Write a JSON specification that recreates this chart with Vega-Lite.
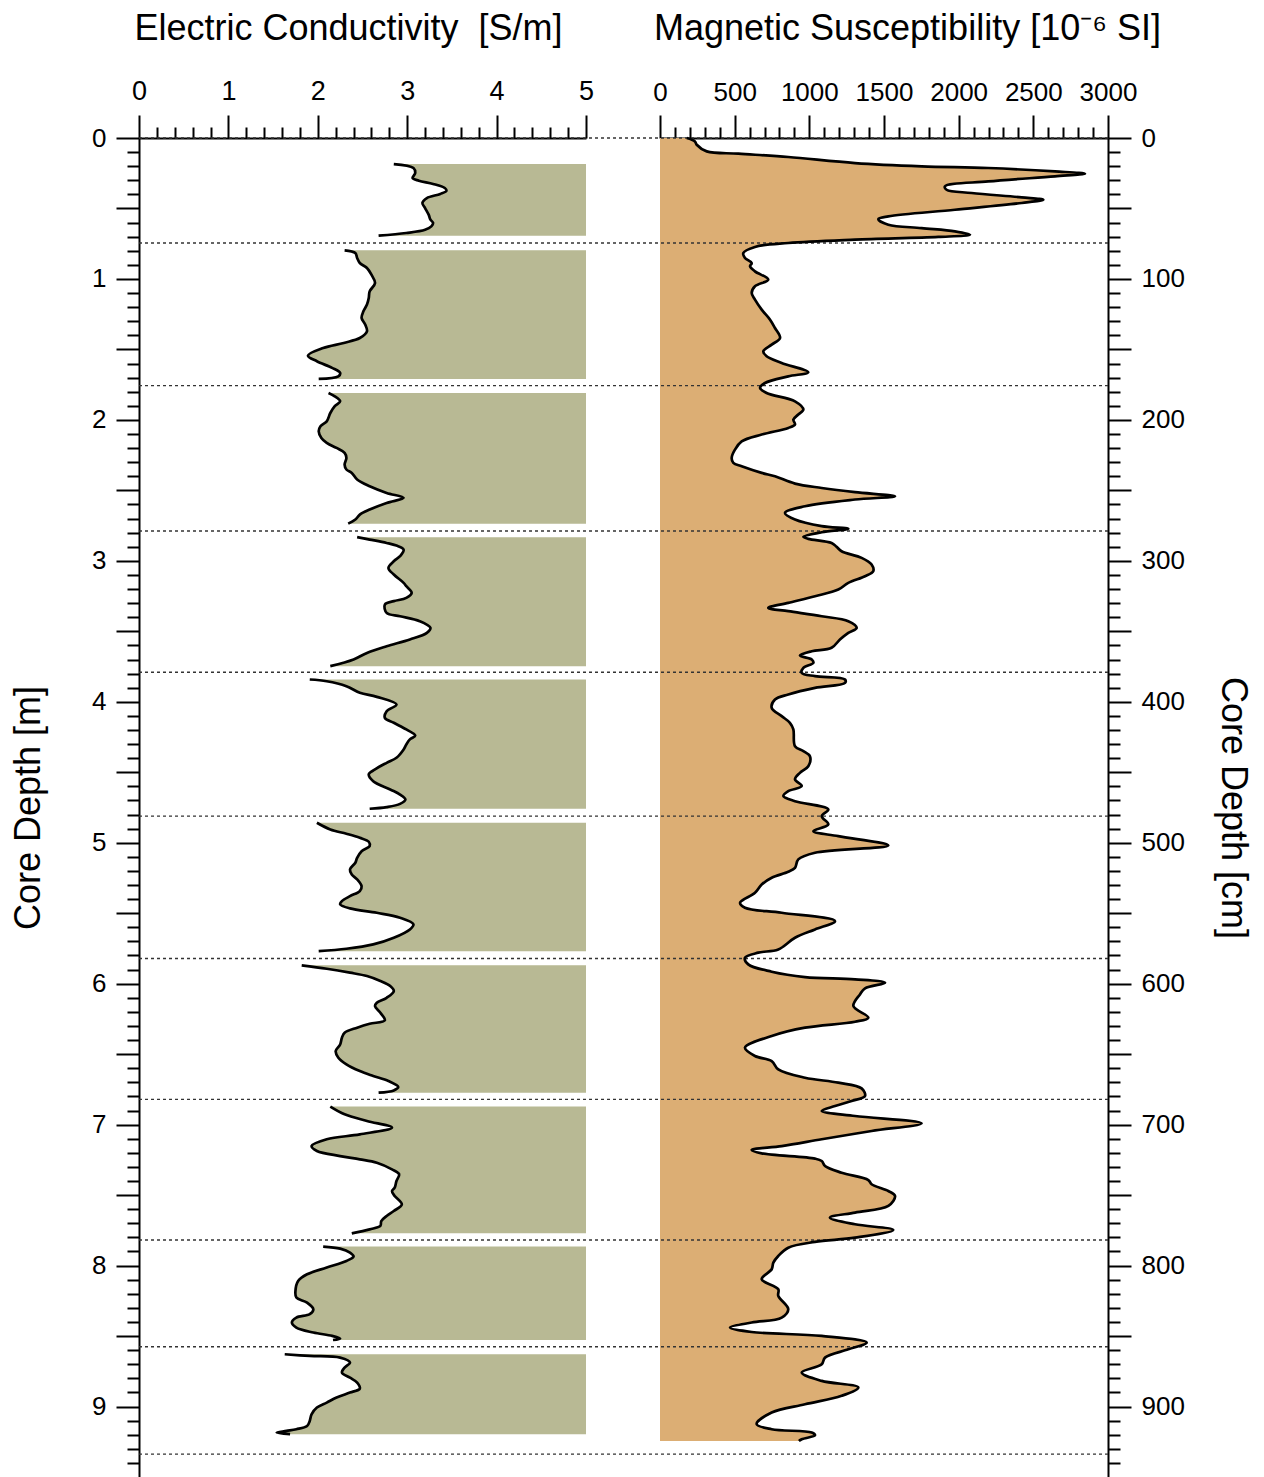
{
  "$schema": "https://vega.github.io/schema/vega-lite/v6.json",
  "width": 969,
  "height": 1339,
  "autosize": {"type": "none"},
  "padding": {"left": 139, "top": 138, "right": 156, "bottom": 0},
  "background": "white",
  "config": {
    "font": "Liberation Sans",
    "view": {"stroke": null},
    "axis": {
      "domainColor": "#000", "domainWidth": 2, "tickColor": "#000", "tickWidth": 2,
      "labelColor": "#000", "titleColor": "#000", "grid": false,
      "labelFont": "Liberation Sans", "titleFont": "Liberation Sans", "titleFontWeight": "normal",
      "labelOverlap": false, "labelBound": false, "labelFlush": false, "zindex": 1
    }
  },
  "datasets": {
    "ec": [
      {"section": 1, "depth": 0.185, "ec": 2.85}, {"section": 1, "depth": 0.213, "ec": 3.07}, {"section": 1, "depth": 0.248, "ec": 3.09}, {"section": 1, "depth": 0.284, "ec": 3.06}, {"section": 1, "depth": 0.303, "ec": 3.13}, {"section": 1, "depth": 0.326, "ec": 3.29}, {"section": 1, "depth": 0.355, "ec": 3.42}, {"section": 1, "depth": 0.374, "ec": 3.44}, {"section": 1, "depth": 0.397, "ec": 3.37}, {"section": 1, "depth": 0.426, "ec": 3.22}, {"section": 1, "depth": 0.461, "ec": 3.17}, {"section": 1, "depth": 0.497, "ec": 3.2}, {"section": 1, "depth": 0.544, "ec": 3.24}, {"section": 1, "depth": 0.579, "ec": 3.26}, {"section": 1, "depth": 0.603, "ec": 3.29}, {"section": 1, "depth": 0.627, "ec": 3.27}, {"section": 1, "depth": 0.651, "ec": 3.2}, {"section": 1, "depth": 0.674, "ec": 2.99}, {"section": 1, "depth": 0.693, "ec": 2.68},
      {"section": 2, "depth": 0.797, "ec": 2.3}, {"section": 2, "depth": 0.816, "ec": 2.42}, {"section": 2, "depth": 0.851, "ec": 2.44}, {"section": 2, "depth": 0.887, "ec": 2.47}, {"section": 2, "depth": 0.922, "ec": 2.55}, {"section": 2, "depth": 0.97, "ec": 2.6}, {"section": 2, "depth": 1.029, "ec": 2.64}, {"section": 2, "depth": 1.088, "ec": 2.58}, {"section": 2, "depth": 1.135, "ec": 2.57}, {"section": 2, "depth": 1.182, "ec": 2.55}, {"section": 2, "depth": 1.23, "ec": 2.51}, {"section": 2, "depth": 1.277, "ec": 2.49}, {"section": 2, "depth": 1.324, "ec": 2.53}, {"section": 2, "depth": 1.372, "ec": 2.55}, {"section": 2, "depth": 1.419, "ec": 2.47}, {"section": 2, "depth": 1.454, "ec": 2.29}, {"section": 2, "depth": 1.49, "ec": 2.06}, {"section": 2, "depth": 1.544, "ec": 1.89}, {"section": 2, "depth": 1.584, "ec": 1.99}, {"section": 2, "depth": 1.631, "ec": 2.16}, {"section": 2, "depth": 1.667, "ec": 2.25}, {"section": 2, "depth": 1.691, "ec": 2.23}, {"section": 2, "depth": 1.709, "ec": 2.01},
      {"section": 3, "depth": 1.809, "ec": 2.12}, {"section": 3, "depth": 1.833, "ec": 2.19}, {"section": 3, "depth": 1.868, "ec": 2.25}, {"section": 3, "depth": 1.903, "ec": 2.19}, {"section": 3, "depth": 1.951, "ec": 2.14}, {"section": 3, "depth": 2.01, "ec": 2.1}, {"section": 3, "depth": 2.045, "ec": 2.03}, {"section": 3, "depth": 2.081, "ec": 2.01}, {"section": 3, "depth": 2.128, "ec": 2.04}, {"section": 3, "depth": 2.163, "ec": 2.1}, {"section": 3, "depth": 2.199, "ec": 2.21}, {"section": 3, "depth": 2.234, "ec": 2.3}, {"section": 3, "depth": 2.27, "ec": 2.32}, {"section": 3, "depth": 2.317, "ec": 2.3}, {"section": 3, "depth": 2.352, "ec": 2.32}, {"section": 3, "depth": 2.376, "ec": 2.38}, {"section": 3, "depth": 2.423, "ec": 2.44}, {"section": 3, "depth": 2.471, "ec": 2.58}, {"section": 3, "depth": 2.518, "ec": 2.77}, {"section": 3, "depth": 2.553, "ec": 2.96}, {"section": 3, "depth": 2.589, "ec": 2.77}, {"section": 3, "depth": 2.636, "ec": 2.58}, {"section": 3, "depth": 2.672, "ec": 2.47}, {"section": 3, "depth": 2.707, "ec": 2.42}, {"section": 3, "depth": 2.736, "ec": 2.34},
      {"section": 4, "depth": 2.832, "ec": 2.44}, {"section": 4, "depth": 2.849, "ec": 2.58}, {"section": 4, "depth": 2.873, "ec": 2.77}, {"section": 4, "depth": 2.892, "ec": 2.88}, {"section": 4, "depth": 2.92, "ec": 2.96}, {"section": 4, "depth": 2.967, "ec": 2.92}, {"section": 4, "depth": 3.003, "ec": 2.85}, {"section": 4, "depth": 3.05, "ec": 2.79}, {"section": 4, "depth": 3.097, "ec": 2.85}, {"section": 4, "depth": 3.156, "ec": 2.96}, {"section": 4, "depth": 3.18, "ec": 2.99}, {"section": 4, "depth": 3.227, "ec": 3.05}, {"section": 4, "depth": 3.263, "ec": 2.99}, {"section": 4, "depth": 3.286, "ec": 2.85}, {"section": 4, "depth": 3.31, "ec": 2.75}, {"section": 4, "depth": 3.369, "ec": 2.77}, {"section": 4, "depth": 3.393, "ec": 2.92}, {"section": 4, "depth": 3.428, "ec": 3.14}, {"section": 4, "depth": 3.475, "ec": 3.26}, {"section": 4, "depth": 3.511, "ec": 3.22}, {"section": 4, "depth": 3.558, "ec": 3.03}, {"section": 4, "depth": 3.606, "ec": 2.77}, {"section": 4, "depth": 3.653, "ec": 2.55}, {"section": 4, "depth": 3.7, "ec": 2.4}, {"section": 4, "depth": 3.747, "ec": 2.14},
      {"section": 5, "depth": 3.842, "ec": 1.91}, {"section": 5, "depth": 3.854, "ec": 2.1}, {"section": 5, "depth": 3.889, "ec": 2.32}, {"section": 5, "depth": 3.936, "ec": 2.47}, {"section": 5, "depth": 3.965, "ec": 2.66}, {"section": 5, "depth": 4.019, "ec": 2.88}, {"section": 5, "depth": 4.067, "ec": 2.77}, {"section": 5, "depth": 4.114, "ec": 2.75}, {"section": 5, "depth": 4.149, "ec": 2.85}, {"section": 5, "depth": 4.196, "ec": 2.99}, {"section": 5, "depth": 4.239, "ec": 3.09}, {"section": 5, "depth": 4.267, "ec": 3.03}, {"section": 5, "depth": 4.303, "ec": 2.99}, {"section": 5, "depth": 4.338, "ec": 2.96}, {"section": 5, "depth": 4.397, "ec": 2.88}, {"section": 5, "depth": 4.433, "ec": 2.77}, {"section": 5, "depth": 4.48, "ec": 2.64}, {"section": 5, "depth": 4.515, "ec": 2.57}, {"section": 5, "depth": 4.563, "ec": 2.62}, {"section": 5, "depth": 4.622, "ec": 2.81}, {"section": 5, "depth": 4.658, "ec": 2.92}, {"section": 5, "depth": 4.693, "ec": 2.98}, {"section": 5, "depth": 4.724, "ec": 2.92}, {"section": 5, "depth": 4.747, "ec": 2.77}, {"section": 5, "depth": 4.759, "ec": 2.58},
      {"section": 6, "depth": 4.858, "ec": 1.99}, {"section": 6, "depth": 4.906, "ec": 2.14}, {"section": 6, "depth": 4.936, "ec": 2.32}, {"section": 6, "depth": 4.965, "ec": 2.47}, {"section": 6, "depth": 4.993, "ec": 2.57}, {"section": 6, "depth": 5.024, "ec": 2.58}, {"section": 6, "depth": 5.06, "ec": 2.49}, {"section": 6, "depth": 5.107, "ec": 2.44}, {"section": 6, "depth": 5.142, "ec": 2.42}, {"section": 6, "depth": 5.189, "ec": 2.36}, {"section": 6, "depth": 5.225, "ec": 2.38}, {"section": 6, "depth": 5.26, "ec": 2.44}, {"section": 6, "depth": 5.308, "ec": 2.49}, {"section": 6, "depth": 5.343, "ec": 2.47}, {"section": 6, "depth": 5.379, "ec": 2.36}, {"section": 6, "depth": 5.414, "ec": 2.27}, {"section": 6, "depth": 5.437, "ec": 2.25}, {"section": 6, "depth": 5.466, "ec": 2.36}, {"section": 6, "depth": 5.497, "ec": 2.66}, {"section": 6, "depth": 5.532, "ec": 2.92}, {"section": 6, "depth": 5.579, "ec": 3.07}, {"section": 6, "depth": 5.615, "ec": 3.03}, {"section": 6, "depth": 5.674, "ec": 2.85}, {"section": 6, "depth": 5.721, "ec": 2.62}, {"section": 6, "depth": 5.752, "ec": 2.32}, {"section": 6, "depth": 5.769, "ec": 2.01},
      {"section": 7, "depth": 5.87, "ec": 1.82}, {"section": 7, "depth": 5.894, "ec": 2.1}, {"section": 7, "depth": 5.922, "ec": 2.36}, {"section": 7, "depth": 5.946, "ec": 2.55}, {"section": 7, "depth": 5.981, "ec": 2.7}, {"section": 7, "depth": 6.017, "ec": 2.81}, {"section": 7, "depth": 6.052, "ec": 2.85}, {"section": 7, "depth": 6.1, "ec": 2.77}, {"section": 7, "depth": 6.135, "ec": 2.66}, {"section": 7, "depth": 6.159, "ec": 2.64}, {"section": 7, "depth": 6.206, "ec": 2.7}, {"section": 7, "depth": 6.26, "ec": 2.75}, {"section": 7, "depth": 6.284, "ec": 2.58}, {"section": 7, "depth": 6.312, "ec": 2.44}, {"section": 7, "depth": 6.348, "ec": 2.3}, {"section": 7, "depth": 6.383, "ec": 2.27}, {"section": 7, "depth": 6.431, "ec": 2.25}, {"section": 7, "depth": 6.478, "ec": 2.2}, {"section": 7, "depth": 6.525, "ec": 2.23}, {"section": 7, "depth": 6.572, "ec": 2.32}, {"section": 7, "depth": 6.62, "ec": 2.47}, {"section": 7, "depth": 6.655, "ec": 2.62}, {"section": 7, "depth": 6.691, "ec": 2.79}, {"section": 7, "depth": 6.733, "ec": 2.9}, {"section": 7, "depth": 6.757, "ec": 2.85}, {"section": 7, "depth": 6.773, "ec": 2.68},
      {"section": 8, "depth": 6.872, "ec": 2.14}, {"section": 8, "depth": 6.927, "ec": 2.3}, {"section": 8, "depth": 6.974, "ec": 2.55}, {"section": 8, "depth": 7.021, "ec": 2.83}, {"section": 8, "depth": 7.069, "ec": 2.47}, {"section": 8, "depth": 7.104, "ec": 2.1}, {"section": 8, "depth": 7.152, "ec": 1.93}, {"section": 8, "depth": 7.187, "ec": 1.99}, {"section": 8, "depth": 7.223, "ec": 2.25}, {"section": 8, "depth": 7.246, "ec": 2.47}, {"section": 8, "depth": 7.27, "ec": 2.66}, {"section": 8, "depth": 7.317, "ec": 2.83}, {"section": 8, "depth": 7.352, "ec": 2.91}, {"section": 8, "depth": 7.4, "ec": 2.88}, {"section": 8, "depth": 7.447, "ec": 2.86}, {"section": 8, "depth": 7.471, "ec": 2.83}, {"section": 8, "depth": 7.506, "ec": 2.86}, {"section": 8, "depth": 7.565, "ec": 2.94}, {"section": 8, "depth": 7.613, "ec": 2.85}, {"section": 8, "depth": 7.648, "ec": 2.77}, {"section": 8, "depth": 7.684, "ec": 2.71}, {"section": 8, "depth": 7.719, "ec": 2.7}, {"section": 8, "depth": 7.743, "ec": 2.58}, {"section": 8, "depth": 7.771, "ec": 2.38},
      {"section": 9, "depth": 7.865, "ec": 2.06}, {"section": 9, "depth": 7.88, "ec": 2.25}, {"section": 9, "depth": 7.908, "ec": 2.36}, {"section": 9, "depth": 7.936, "ec": 2.4}, {"section": 9, "depth": 7.967, "ec": 2.32}, {"section": 9, "depth": 8.014, "ec": 2.1}, {"section": 9, "depth": 8.062, "ec": 1.88}, {"section": 9, "depth": 8.109, "ec": 1.78}, {"section": 9, "depth": 8.18, "ec": 1.75}, {"section": 9, "depth": 8.227, "ec": 1.76}, {"section": 9, "depth": 8.263, "ec": 1.88}, {"section": 9, "depth": 8.31, "ec": 1.95}, {"section": 9, "depth": 8.345, "ec": 1.91}, {"section": 9, "depth": 8.369, "ec": 1.76}, {"section": 9, "depth": 8.404, "ec": 1.71}, {"section": 9, "depth": 8.44, "ec": 1.76}, {"section": 9, "depth": 8.475, "ec": 1.95}, {"section": 9, "depth": 8.499, "ec": 2.16}, {"section": 9, "depth": 8.518, "ec": 2.25}, {"section": 9, "depth": 8.528, "ec": 2.17},
      {"section": 10, "depth": 8.629, "ec": 1.63}, {"section": 10, "depth": 8.641, "ec": 1.91}, {"section": 10, "depth": 8.653, "ec": 2.25}, {"section": 10, "depth": 8.688, "ec": 2.36}, {"section": 10, "depth": 8.724, "ec": 2.3}, {"section": 10, "depth": 8.759, "ec": 2.27}, {"section": 10, "depth": 8.795, "ec": 2.36}, {"section": 10, "depth": 8.83, "ec": 2.44}, {"section": 10, "depth": 8.873, "ec": 2.47}, {"section": 10, "depth": 8.901, "ec": 2.36}, {"section": 10, "depth": 8.936, "ec": 2.21}, {"section": 10, "depth": 8.972, "ec": 2.1}, {"section": 10, "depth": 9.007, "ec": 1.99}, {"section": 10, "depth": 9.055, "ec": 1.93}, {"section": 10, "depth": 9.102, "ec": 1.91}, {"section": 10, "depth": 9.138, "ec": 1.88}, {"section": 10, "depth": 9.161, "ec": 1.76}, {"section": 10, "depth": 9.173, "ec": 1.65}, {"section": 10, "depth": 9.185, "ec": 1.54}, {"section": 10, "depth": 9.196, "ec": 1.69}
    ],
    "ms": [
      {"depth": 0, "ms": 179}, {"depth": 0.024, "ms": 234}, {"depth": 0.048, "ms": 246}, {"depth": 0.095, "ms": 313}, {"depth": 0.111, "ms": 525}, {"depth": 0.135, "ms": 859}, {"depth": 0.178, "ms": 1306}, {"depth": 0.201, "ms": 1752}, {"depth": 0.213, "ms": 2198}, {"depth": 0.237, "ms": 2645}, {"depth": 0.253, "ms": 2846}, {"depth": 0.272, "ms": 2645}, {"depth": 0.308, "ms": 2198}, {"depth": 0.343, "ms": 1908}, {"depth": 0.367, "ms": 1919}, {"depth": 0.39, "ms": 2087}, {"depth": 0.421, "ms": 2422}, {"depth": 0.438, "ms": 2567}, {"depth": 0.461, "ms": 2422}, {"depth": 0.509, "ms": 1975}, {"depth": 0.556, "ms": 1529}, {"depth": 0.575, "ms": 1462}, {"depth": 0.615, "ms": 1529}, {"depth": 0.639, "ms": 1752}, {"depth": 0.662, "ms": 1975}, {"depth": 0.686, "ms": 2076}, {"depth": 0.702, "ms": 1864}, {"depth": 0.721, "ms": 1306}, {"depth": 0.745, "ms": 859}, {"depth": 0.773, "ms": 636}, {"depth": 0.816, "ms": 558}, {"depth": 0.851, "ms": 569}, {"depth": 0.887, "ms": 614}, {"depth": 0.91, "ms": 603}, {"depth": 0.946, "ms": 636}, {"depth": 1.005, "ms": 725}, {"depth": 1.052, "ms": 636}, {"depth": 1.1, "ms": 614}, {"depth": 1.147, "ms": 636}, {"depth": 1.218, "ms": 681}, {"depth": 1.289, "ms": 737}, {"depth": 1.348, "ms": 770}, {"depth": 1.419, "ms": 804}, {"depth": 1.466, "ms": 748}, {"depth": 1.513, "ms": 692}, {"depth": 1.549, "ms": 714}, {"depth": 1.596, "ms": 815}, {"depth": 1.662, "ms": 993}, {"depth": 1.691, "ms": 859}, {"depth": 1.738, "ms": 703}, {"depth": 1.773, "ms": 670}, {"depth": 1.809, "ms": 714}, {"depth": 1.868, "ms": 904}, {"depth": 1.927, "ms": 960}, {"depth": 1.962, "ms": 926}, {"depth": 1.998, "ms": 893}, {"depth": 2.033, "ms": 904}, {"depth": 2.057, "ms": 859}, {"depth": 2.104, "ms": 681}, {"depth": 2.152, "ms": 547}, {"depth": 2.211, "ms": 502}, {"depth": 2.27, "ms": 480}, {"depth": 2.305, "ms": 491},
      {"depth": 2.329, "ms": 547}, {"depth": 2.376, "ms": 681}, {"depth": 2.4, "ms": 770}, {"depth": 2.452, "ms": 904}, {"depth": 2.483, "ms": 1083}, {"depth": 2.513, "ms": 1306}, {"depth": 2.542, "ms": 1574}, {"depth": 2.565, "ms": 1306}, {"depth": 2.613, "ms": 971}, {"depth": 2.66, "ms": 837}, {"depth": 2.707, "ms": 904}, {"depth": 2.754, "ms": 1083}, {"depth": 2.773, "ms": 1261}, {"depth": 2.797, "ms": 1083}, {"depth": 2.83, "ms": 960}, {"depth": 2.844, "ms": 993}, {"depth": 2.873, "ms": 1149}, {"depth": 2.901, "ms": 1183}, {"depth": 2.932, "ms": 1216}, {"depth": 2.979, "ms": 1350}, {"depth": 3.026, "ms": 1417}, {"depth": 3.074, "ms": 1428}, {"depth": 3.109, "ms": 1373}, {"depth": 3.156, "ms": 1261}, {"depth": 3.204, "ms": 1194}, {"depth": 3.251, "ms": 1038}, {"depth": 3.298, "ms": 859}, {"depth": 3.334, "ms": 725}, {"depth": 3.357, "ms": 859}, {"depth": 3.393, "ms": 1083}, {"depth": 3.428, "ms": 1261}, {"depth": 3.475, "ms": 1317}, {"depth": 3.511, "ms": 1261}, {"depth": 3.558, "ms": 1205}, {"depth": 3.617, "ms": 1149}, {"depth": 3.641, "ms": 1016}, {"depth": 3.672, "ms": 937}, {"depth": 3.7, "ms": 1016}, {"depth": 3.724, "ms": 1027}, {"depth": 3.759, "ms": 960}, {"depth": 3.795, "ms": 949}, {"depth": 3.818, "ms": 1038}, {"depth": 3.842, "ms": 1239}, {"depth": 3.866, "ms": 1239}, {"depth": 3.901, "ms": 1038}, {"depth": 3.948, "ms": 859}, {"depth": 3.984, "ms": 770}, {"depth": 4.043, "ms": 748}, {"depth": 4.102, "ms": 815}, {"depth": 4.149, "ms": 870}, {"depth": 4.196, "ms": 893}, {"depth": 4.315, "ms": 904}, {"depth": 4.35, "ms": 960}, {"depth": 4.386, "ms": 1004}, {"depth": 4.457, "ms": 993}, {"depth": 4.504, "ms": 937}, {"depth": 4.551, "ms": 904}, {"depth": 4.598, "ms": 949},
      {"depth": 4.634, "ms": 859}, {"depth": 4.669, "ms": 826}, {"depth": 4.705, "ms": 904}, {"depth": 4.764, "ms": 1127}, {"depth": 4.811, "ms": 1083}, {"depth": 4.87, "ms": 1127}, {"depth": 4.918, "ms": 1027}, {"depth": 4.953, "ms": 1194}, {"depth": 5.019, "ms": 1529}, {"depth": 5.071, "ms": 1038}, {"depth": 5.118, "ms": 926}, {"depth": 5.178, "ms": 904}, {"depth": 5.206, "ms": 859}, {"depth": 5.248, "ms": 748}, {"depth": 5.296, "ms": 681}, {"depth": 5.355, "ms": 636}, {"depth": 5.426, "ms": 536}, {"depth": 5.461, "ms": 569}, {"depth": 5.497, "ms": 815}, {"depth": 5.556, "ms": 1172}, {"depth": 5.615, "ms": 1038}, {"depth": 5.674, "ms": 904}, {"depth": 5.757, "ms": 792}, {"depth": 5.78, "ms": 658}, {"depth": 5.816, "ms": 569}, {"depth": 5.863, "ms": 591}, {"depth": 5.915, "ms": 748}, {"depth": 5.953, "ms": 971}, {"depth": 5.969, "ms": 1306}, {"depth": 5.993, "ms": 1507}, {"depth": 6.033, "ms": 1373}, {"depth": 6.076, "ms": 1339}, {"depth": 6.159, "ms": 1295}, {"depth": 6.241, "ms": 1395}, {"depth": 6.27, "ms": 1306}, {"depth": 6.312, "ms": 971}, {"depth": 6.371, "ms": 748}, {"depth": 6.454, "ms": 569}, {"depth": 6.513, "ms": 636}, {"depth": 6.549, "ms": 748}, {"depth": 6.608, "ms": 792}, {"depth": 6.667, "ms": 971}, {"depth": 6.702, "ms": 1194}, {"depth": 6.743, "ms": 1350}, {"depth": 6.797, "ms": 1373}, {"depth": 6.832, "ms": 1283}, {"depth": 6.868, "ms": 1172}, {"depth": 6.903, "ms": 1083},
      {"depth": 6.939, "ms": 1306}, {"depth": 6.991, "ms": 1752}, {"depth": 7.045, "ms": 1417}, {"depth": 7.104, "ms": 1083}, {"depth": 7.152, "ms": 815}, {"depth": 7.18, "ms": 614}, {"depth": 7.204, "ms": 681}, {"depth": 7.241, "ms": 1038}, {"depth": 7.258, "ms": 1083}, {"depth": 7.293, "ms": 1105}, {"depth": 7.341, "ms": 1216}, {"depth": 7.393, "ms": 1395}, {"depth": 7.423, "ms": 1417}, {"depth": 7.471, "ms": 1529}, {"depth": 7.506, "ms": 1574}, {"depth": 7.577, "ms": 1529}, {"depth": 7.624, "ms": 1306}, {"depth": 7.66, "ms": 1138}, {"depth": 7.707, "ms": 1306}, {"depth": 7.747, "ms": 1562}, {"depth": 7.802, "ms": 1306}, {"depth": 7.832, "ms": 1038}, {"depth": 7.873, "ms": 859}, {"depth": 7.932, "ms": 792}, {"depth": 7.979, "ms": 759}, {"depth": 8.026, "ms": 748}, {"depth": 8.097, "ms": 681}, {"depth": 8.168, "ms": 792}, {"depth": 8.215, "ms": 792}, {"depth": 8.31, "ms": 859}, {"depth": 8.369, "ms": 815}, {"depth": 8.404, "ms": 614}, {"depth": 8.44, "ms": 469}, {"depth": 8.471, "ms": 614}, {"depth": 8.499, "ms": 1083}, {"depth": 8.546, "ms": 1384}, {"depth": 8.594, "ms": 1261}, {"depth": 8.653, "ms": 1105}, {"depth": 8.7, "ms": 1083}, {"depth": 8.759, "ms": 949}, {"depth": 8.818, "ms": 1083}, {"depth": 8.865, "ms": 1328}, {"depth": 8.924, "ms": 1216}, {"depth": 8.984, "ms": 971}, {"depth": 9.043, "ms": 748}, {"depth": 9.125, "ms": 647}, {"depth": 9.161, "ms": 748}, {"depth": 9.185, "ms": 1016}, {"depth": 9.204, "ms": 1038}, {"depth": 9.232, "ms": 949}, {"depth": 9.245, "ms": 930}
    ],
    "cores": [
      {"depth": 0}, {"depth": 0.745}, {"depth": 1.757}, {"depth": 2.788}, {"depth": 3.79}, {"depth": 4.811}, {"depth": 5.821}, {"depth": 6.821}, {"depth": 7.818}, {"depth": 8.576}, {"depth": 9.338}
    ]
  },
  "layer": [
    {
      "data": {"name": "ec"},
      "mark": {"type": "area", "orient": "horizontal", "interpolate": "catmull-rom", "color": "#b8b994"},
      "encoding": {
        "y": {"field": "depth", "type": "quantitative",
          "scale": {"domain": [0, 9.5], "reverse": true, "nice": false, "zero": false},
          "axis": {"orient": "left",
            "values": [0,0.1,0.2,0.3,0.4,0.5,0.6,0.7,0.8,0.9,1,1.1,1.2,1.3,1.4,1.5,1.6,1.7,1.8,1.9,2,2.1,2.2,2.3,2.4,2.5,2.6,2.7,2.8,2.9,3,3.1,3.2,3.3,3.4,3.5,3.6,3.7,3.8,3.9,4,4.1,4.2,4.3,4.4,4.5,4.6,4.7,4.8,4.9,5,5.1,5.2,5.3,5.4,5.5,5.6,5.7,5.8,5.9,6,6.1,6.2,6.3,6.4,6.5,6.6,6.7,6.8,6.9,7,7.1,7.2,7.3,7.4,7.5,7.6,7.7,7.8,7.9,8,8.1,8.2,8.3,8.4,8.5,8.6,8.7,8.8,8.9,9,9.1,9.2,9.3,9.4],
            "tickSize": {"condition": {"test": "datum.value % 0.5 === 0", "value": 23}, "value": 12},
            "labelExpr": "datum.value % 1 === 0 ? format(datum.value, 'd') : ''",
            "labelFont": "Liberation Sans", "labelFontSize": 26, "labelPadding": 10,
            "title": "Core Depth [m]", "titleFontSize": 36, "titleX": -111, "titleY": 669.5,
            "titleAngle": -90, "titleAlign": "center", "titleBaseline": "middle"}},
        "x": {"field": "ec", "type": "quantitative", "stack": null,
          "scale": {"domain": [0, 5], "range": [0, 447], "nice": false, "zero": false},
          "axis": {"orient": "top",
            "values": [0,0.2,0.4,0.6,0.8,1,1.2,1.4,1.6,1.8,2,2.2,2.4,2.6,2.8,3,3.2,3.4,3.6,3.8,4,4.2,4.4,4.6,4.8,5],
            "tickSize": {"condition": {"test": "datum.value % 1 === 0", "value": 23}, "value": 11},
            "labelExpr": "datum.value % 1 === 0 ? format(datum.value, 'd') : ''",
            "labelFont": "Liberation Sans", "labelFontSize": 27, "labelPadding": 10,
            "title": "Electric Conductivity\u00a0\u00a0[S/m]", "titleFontSize": 36, "titleX": 209, "titleY": -99,
            "titleAlign": "center", "titleBaseline": "alphabetic"}},
        "x2": {"datum": 5},
        "detail": {"field": "section", "type": "nominal"}
      }
    },
    {
      "data": {"name": "ms"},
      "mark": {"type": "area", "orient": "horizontal", "interpolate": "catmull-rom", "color": "#dcae74"},
      "encoding": {
        "y": {"field": "depth", "type": "quantitative",
          "scale": {"domain": [0, 9.5], "reverse": true, "nice": false, "zero": false},
          "axis": {"orient": "right",
            "values": [0,0.1,0.2,0.3,0.4,0.5,0.6,0.7,0.8,0.9,1,1.1,1.2,1.3,1.4,1.5,1.6,1.7,1.8,1.9,2,2.1,2.2,2.3,2.4,2.5,2.6,2.7,2.8,2.9,3,3.1,3.2,3.3,3.4,3.5,3.6,3.7,3.8,3.9,4,4.1,4.2,4.3,4.4,4.5,4.6,4.7,4.8,4.9,5,5.1,5.2,5.3,5.4,5.5,5.6,5.7,5.8,5.9,6,6.1,6.2,6.3,6.4,6.5,6.6,6.7,6.8,6.9,7,7.1,7.2,7.3,7.4,7.5,7.6,7.7,7.8,7.9,8,8.1,8.2,8.3,8.4,8.5,8.6,8.7,8.8,8.9,9,9.1,9.2,9.3,9.4],
            "tickSize": {"condition": {"test": "datum.value % 0.5 === 0", "value": 23}, "value": 12},
            "labelExpr": "datum.value % 1 === 0 ? format(datum.value * 100, 'd') : ''",
            "labelFont": "Liberation Sans", "labelFontSize": 26, "labelPadding": 10,
            "title": "Core Depth [cm]", "titleFontSize": 36, "titleX": 124, "titleY": 669.5,
            "titleAngle": 90, "titleAlign": "center", "titleBaseline": "middle"}},
        "x": {"field": "ms", "type": "quantitative", "stack": null,
          "scale": {"domain": [0, 3000], "range": [521, 969], "nice": false, "zero": false},
          "axis": {"orient": "top",
            "values": [0,100,200,300,400,500,600,700,800,900,1000,1100,1200,1300,1400,1500,1600,1700,1800,1900,2000,2100,2200,2300,2400,2500,2600,2700,2800,2900,3000],
            "tickSize": {"condition": {"test": "datum.value % 500 === 0", "value": 23}, "value": 11},
            "labelExpr": "datum.value % 500 === 0 ? format(datum.value, 'd') : ''",
            "labelFont": "Liberation Sans", "labelFontSize": 26, "labelPadding": 10,
            "title": "Magnetic Susceptibility [10⁻⁶ SI]", "titleFontSize": 36, "titleX": 768, "titleY": -99,
            "titleAlign": "center", "titleBaseline": "alphabetic"}},
        "x2": {"datum": 0}
      }
    },
    {
      "data": {"name": "cores"},
      "mark": {"type": "rule", "color": "#333", "strokeWidth": 1.4, "strokeDash": [3, 3]},
      "encoding": {
        "y": {"field": "depth", "type": "quantitative",
          "scale": {"domain": [0, 9.5], "reverse": true, "nice": false, "zero": false}, "axis": null}
      }
    },
    {
      "data": {"name": "ec"},
      "mark": {"type": "line", "interpolate": "catmull-rom", "color": "#000", "strokeWidth": 2.7},
      "encoding": {
        "y": {"field": "depth", "type": "quantitative",
          "scale": {"domain": [0, 9.5], "reverse": true, "nice": false, "zero": false}, "axis": null},
        "x": {"field": "ec", "type": "quantitative",
          "scale": {"domain": [0, 5], "range": [0, 447], "nice": false, "zero": false}, "axis": null},
        "detail": {"field": "section", "type": "nominal"},
        "order": {"field": "depth", "type": "quantitative"}
      }
    },
    {
      "data": {"name": "ms"},
      "mark": {"type": "line", "interpolate": "catmull-rom", "color": "#000", "strokeWidth": 2.7},
      "encoding": {
        "y": {"field": "depth", "type": "quantitative",
          "scale": {"domain": [0, 9.5], "reverse": true, "nice": false, "zero": false}, "axis": null},
        "x": {"field": "ms", "type": "quantitative",
          "scale": {"domain": [0, 3000], "range": [521, 969], "nice": false, "zero": false}, "axis": null},
        "order": {"field": "depth", "type": "quantitative"}
      }
    }
  ],
  "resolve": {"scale": {"x": "independent", "y": "independent"}, "axis": {"x": "independent", "y": "independent"}}
}
